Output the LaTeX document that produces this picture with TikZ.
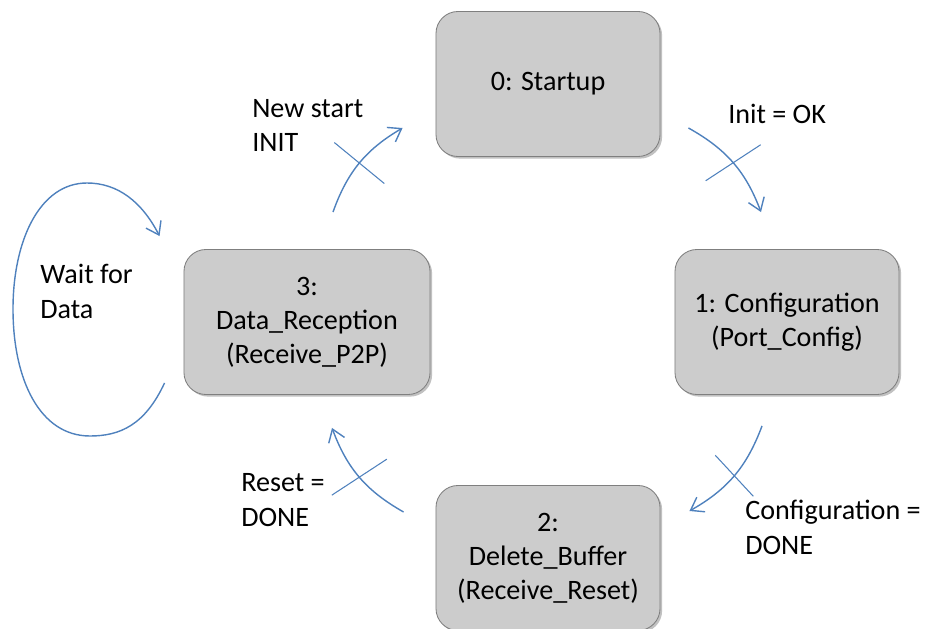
\documentclass[tikz,border=0pt]{standalone}
\usepackage{fontspec}
\setmainfont{Carlito}
\usetikzlibrary{arrows.meta,shadows}
\definecolor{flowblue}{HTML}{4F81BD}
\definecolor{boxgray}{HTML}{CCCCCC}
\definecolor{boxline}{HTML}{7F7F7F}
\tikzset{
  statebox/.style={draw=boxline, fill=boxgray, rounded corners=0.55cm, align=center,
    minimum width=5.6cm, minimum height=3.625cm, line width=0.6pt,
    drop shadow={shadow xshift=1.5pt, shadow yshift=-1.5pt, opacity=0.35, fill=black!70}},
  flow/.style={draw=flowblue, line width=1pt, -{Straight Barb[length=3mm, width=4.2mm]}},
  crossline/.style={draw=flowblue, line width=0.75pt},
  lbl/.style={anchor=base west, align=left, inner sep=0pt}
}
\begin{document}
\begin{tikzpicture}[x=0.025cm, y=-0.025cm, every node/.style={font=\fontsize{20}{24.2}\selectfont}]
    \useasboundingbox (0,0) rectangle (931,629);
    % states
    \node[statebox] (startup) at (548,84) {0: Startup};
    \node[statebox] (config) at (787,322) {1: Configuration\\(Port\_Config)};
    \node[statebox] (delbuf) at (548,558) {2:\\Delete\_Buffer\\(Receive\_Reset)};
    \node[statebox, minimum width=6.15cm] (datarx) at (307,322) {3:\\Data\_Reception\\(Receive\_P2P)};
    % transitions
    \draw[flow] ([shift={(26,-37)}]datarx.north) to[bend left=20] coordinate[midway] (x30) ([shift={(-33,44)}]startup.west);
    \draw[flow] ([shift={(28,44)}]startup.east) to[bend left=20] coordinate[midway] (x01) ([shift={(-26,-37)}]config.north);
    \draw[flow] ([shift={(-25,31)}]config.south) to[bend left=20] coordinate[midway] (x12) ([shift={(29,-47)}]delbuf.east);
    \draw[flow] ([shift={(-32,-46)}]delbuf.west) to[bend left=20] coordinate[midway] (x23) ([shift={(25,33)}]datarx.south);
    \draw[crossline] ([shift={(-25,-20.5)}]x30) -- ([shift={(25,20.5)}]x30);
    \draw[crossline] ([shift={(-27.5,18)}]x01) -- ([shift={(27.5,-18)}]x01);
    \draw[crossline] ([shift={(-19,-20.5)}]x12) -- ([shift={(19,20.5)}]x12);
    \draw[crossline] ([shift={(-27.5,18)}]x23) -- ([shift={(27.5,-18)}]x23);
    % waiting loop
    \coordinate (loopa) at ([shift={(-19,-12)}]datarx.south west);
    \coordinate (loopb) at ([shift={(-24,-13)}]datarx.north west);
    \draw[flow] (loopa) .. controls (145,425) and (120,436) .. (90,436)
        .. controls (40,436) and (13,380) .. (13,309)
        .. controls (13,240) and (40,183) .. (87,183)
        .. controls (118,183) and (142,202) .. (loopb);
    % labels (base = last line)
    \node[lbl] (newstart) at (252,152) {New start\\INIT};
    \node[lbl] (initok) at (728,124) {Init = OK};
    \node[lbl] (waitdata) at (40,318) {Wait for\\Data};
    \node[lbl] (resetdone) at (241,526) {Reset =\\DONE};
    \node[lbl] (confdone) at (745,554) {Configuration =\\DONE};
\end{tikzpicture}
\end{document}
